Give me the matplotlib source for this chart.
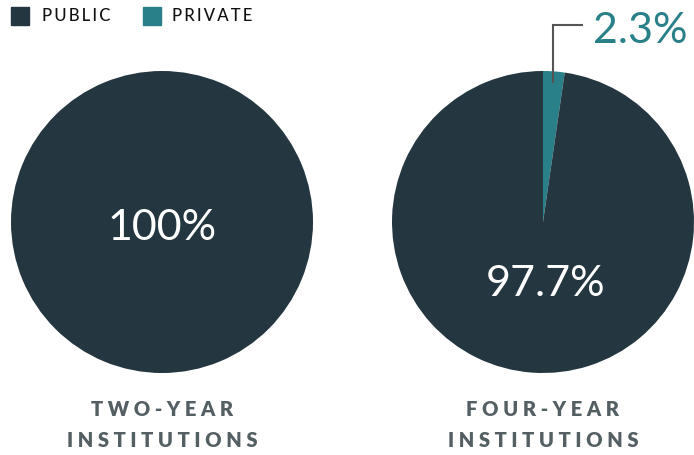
import matplotlib.pyplot as plt
import numpy as np

# Public vs private share of institutions (%)
groups = ['TWO-YEAR\nINSTITUTIONS', 'FOUR-YEAR\nINSTITUTIONS']
sectors = ['PUBLIC', 'PRIVATE']
public_share = [100.0, 97.7]
private_share = [0.0, 2.3]

colors = ['#243640', '#2a8088']
label_gray = '#535f63'

W, H = 694, 455
fig = plt.figure(figsize=(W / 100, H / 100), dpi=100)


def spaced(s, gap=' '):
    return '\n'.join(gap.join(line) for line in s.split('\n'))


centers = [(162, 222), (543, 222)]
radius = 151
num_font = dict(fontsize=31, family='Lato', fontweight='normal')

for k, (cx, cy) in enumerate(centers):
    ax = fig.add_axes([(cx - radius) / W, (H - cy - radius) / H,
                       2 * radius / W, 2 * radius / H])
    vals = [private_share[k], public_share[k]]
    ax.pie(vals, colors=[colors[1], colors[0]], startangle=90,
           counterclock=False, radius=1,
           wedgeprops=dict(linewidth=0))
    ax.set_xlim(-1, 1)
    ax.set_ylim(-1, 1)
    ax.set_aspect('equal')
    ax.axis('off')

    if private_share[k] == 0:
        ax.text(0, -0.04, f'{public_share[k]:.0f}%', ha='center', va='center',
                color='white', **num_font)
    else:
        ax.text(0.02, -0.41, f'{public_share[k]}%', ha='center', va='center',
                color='white', **num_font)
        # leader line to the small private slice
        mid = np.deg2rad(90 - private_share[k] / 100 * 360 / 2)
        x0, y0 = np.cos(mid) * 0.93, np.sin(mid) * 0.93
        ax.plot([x0, x0, 0.258], [y0, 1.305, 1.305], color='#555555',
                lw=1.5, clip_on=False, solid_joinstyle='miter')
        ax.text(0.33, 1.265, f'{private_share[k]}%', ha='left', va='center',
                color=colors[1], clip_on=False, **num_font)

    # group label under each pie
    fig.text(cx / W, 1 - 425 / H, spaced(groups[k]), ha='center',
             va='center', fontsize=14.5, fontweight='heavy', family='Lato',
             color=label_gray, linespacing=1.75)

# legend boxes
for i, (name, x_box, x_txt) in enumerate(zip(sectors, [11, 143], [42, 172])):
    fig.patches.append(plt.Rectangle((x_box / W, 1 - 25 / H), 18 / W, 18 / H,
                                     transform=fig.transFigure,
                                     color=colors[i]))
    fig.text(x_txt / W, 1 - 16 / H, spaced(name, '\u2009'), ha='left',
             va='center', fontsize=12, family='Lato', fontweight='medium',
             color='#111111')

fig.savefig('out.png', dpi=100, facecolor='white')
